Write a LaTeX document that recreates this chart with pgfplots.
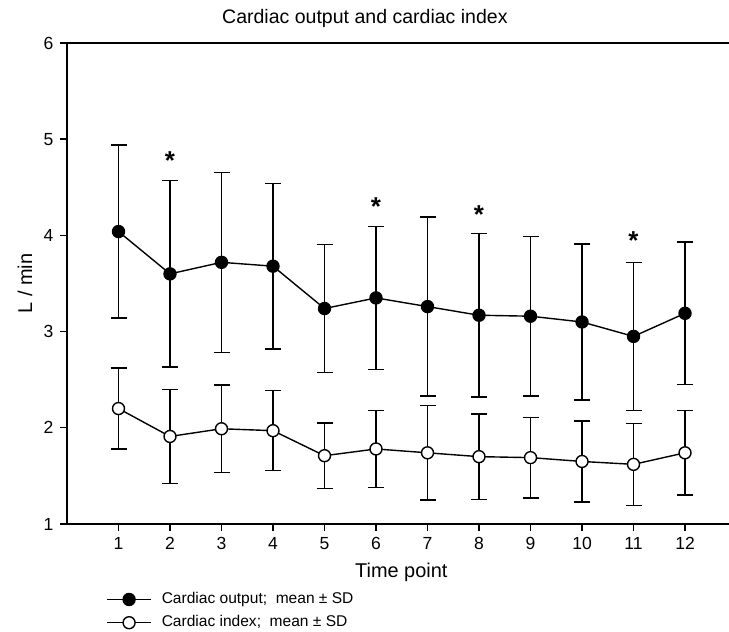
\documentclass[border=0pt]{standalone}
\usepackage{fontspec}
\setmainfont{Liberation Sans}
\usepackage{pgfplots}
\usepackage{pgfplotstable}
\pgfplotsset{compat=1.18}

% time point, cardiac output (mean, SD), cardiac index (mean, SD)
\pgfplotstableread{
t  co    cosd   ci    cisd
1  4.04  0.90   2.20  0.42
2  3.60  0.97   1.91  0.49
3  3.72  0.935  1.99  0.455
4  3.68  0.86   1.97  0.415
5  3.24  0.665  1.71  0.34
6  3.35  0.745  1.78  0.40
7  3.26  0.93   1.74  0.49
8  3.17  0.85   1.70  0.445
9  3.16  0.83   1.69  0.42
10 3.10  0.81   1.65  0.42
11 2.95  0.77   1.62  0.425
12 3.19  0.74   1.74  0.44
}\cardiac

\begin{document}
\begin{tikzpicture}
\useasboundingbox (0,0) rectangle (364.5bp,316bp);
\begin{axis}[
  at={(33.5bp,54bp)}, anchor=south west,
  scale only axis, width=331bp, height=240.5bp,
  xmin=0, xmax=12.854, ymin=1, ymax=6,
  axis x line=box, axis y line=left,
  axis line style={-, line width=0.7bp, black},
  xtick={1,...,12}, ytick={1,...,6},
  xtick pos=bottom, ytick pos=left,
  tick align=outside, major tick length=3.3bp,
  tick style={line width=0.7bp, black},
  /pgf/number format/assume math mode=true,
  tick label style={font=\fontsize{8.8}{10}\selectfont},
  title={Cardiac output and cardiac index},
  title style={at={(axis description cs:0.45,1.052)}, anchor=center, yshift=-6pt, font=\fontsize{9.8}{11}\selectfont},
  xlabel={Time point},
  xlabel style={at={(axis description cs:0.505,-0.0998)}, anchor=center, font=\fontsize{10}{12}\selectfont},
  ylabel={L / min},
  ylabel style={at={(axis description cs:-0.0634,0.5)}, anchor=center, font=\fontsize{10}{12}\selectfont},
  legend style={at={(axis description cs:0.0589,-0.133)}, anchor=north west,
    draw=none, fill=none, inner sep=0pt, row sep=0.5bp, column sep=3bp,
    font=\fontsize{7.8}{9}\selectfont},
  legend cell align=left,
  legend image code/.code={\draw[mark repeat=2,mark phase=2,#1] plot coordinates {(0bp,0bp) (11bp,0bp) (22bp,0bp)};},
]
\addplot[black, line width=0.7bp, mark=*, mark size=3bp, mark options={fill=black, solid},
  error bars/.cd, y dir=both, y explicit,
  error bar style={line width=0.7bp, black},
  error mark options={rotate=90, mark size=4bp, line width=0.7bp, black}]
  table[x=t, y=co, y error=cosd] {\cardiac};
\addlegendentry{Cardiac output;\ \ mean ± SD}
\addplot[black, line width=0.7bp, mark=*, mark size=3bp, mark options={fill=white, solid},
  error bars/.cd, y dir=both, y explicit,
  error bar style={line width=0.7bp, black},
  error mark options={rotate=90, mark size=4bp, line width=0.7bp, black}]
  table[x=t, y=ci, y error=cisd] {\cardiac};
\addlegendentry{Cardiac index;\ \ mean ± SD}
% significance markers
\node[anchor=north, inner sep=0pt, font=\fontsize{13}{13}\selectfont\bfseries] at (axis cs:2,4.878) {*};
\node[anchor=north, inner sep=0pt, font=\fontsize{13}{13}\selectfont\bfseries] at (axis cs:6,4.393) {*};
\node[anchor=north, inner sep=0pt, font=\fontsize{13}{13}\selectfont\bfseries] at (axis cs:8,4.31) {*};
\node[anchor=north, inner sep=0pt, font=\fontsize{13}{13}\selectfont\bfseries] at (axis cs:11,4.04) {*};
\end{axis}
\end{tikzpicture}
\end{document}
